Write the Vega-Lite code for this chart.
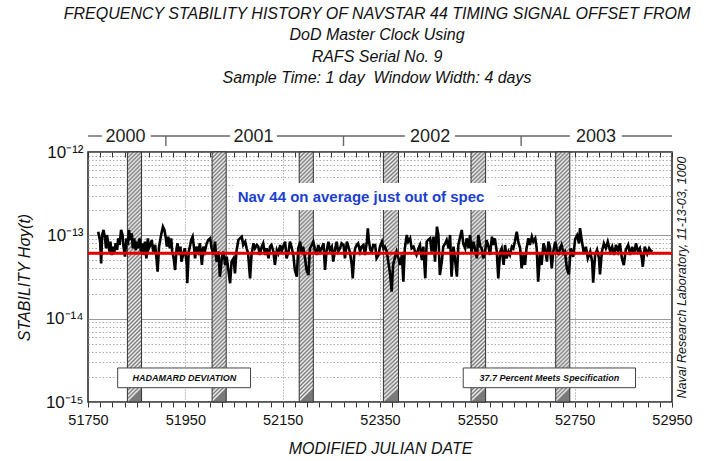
{
  "$schema": "https://vega.github.io/schema/vega-lite/v6.json",
  "autosize": {"type": "none"},
  "padding": {"left": 88, "top": 152, "right": 37, "bottom": 59},
  "width": 584,
  "height": 250,
  "config": {
    "font": "Liberation Sans",
    "view": {"stroke": "#222", "strokeWidth": 1.5},
    "axis": {"labelFont": "Liberation Sans", "titleFont": "Liberation Sans"}
  },
  "title": {
    "text": ["FREQUENCY STABILITY HISTORY OF NAVSTAR 44 TIMING SIGNAL OFFSET FROM", "DoD Master Clock Using", "RAFS Serial No. 9", "Sample Time: 1 day\u00a0 Window Width: 4 days"],
    "font": "Liberation Sans",
    "fontSize": 16,
    "fontStyle": "italic",
    "fontWeight": "normal",
    "color": "#111",
    "lineHeight": 21.5,
    "anchor": "middle",
    "frame": "group",
    "offset": 42,
    "dx": -3
  },
  "resolve": {"axis": {"x": "independent", "y": "independent"}},
  "layer": [
    {
      "data": {"values": [
        {"start": 51831, "end": 51860},
        {"start": 52005, "end": 52034},
        {"start": 52184, "end": 52213},
        {"start": 52357, "end": 52388},
        {"start": 52537, "end": 52567},
        {"start": 52711, "end": 52740}
      ]},
      "mark": {
        "type": "rect",
        "stroke": "#333",
        "strokeWidth": 1,
        "fill": {
          "gradient": "linear", "x1": 0, "y1": 0, "x2": 0.0564, "y2": 1,
          "stops": [
            {"offset": 0, "color": "#f2f2f2"}, {"offset": 0.008, "color": "#7a7a7a"},
            {"offset": 0.016, "color": "#f2f2f2"}, {"offset": 0.024, "color": "#7a7a7a"},
            {"offset": 0.032, "color": "#f2f2f2"}, {"offset": 0.04, "color": "#7a7a7a"},
            {"offset": 0.048, "color": "#f2f2f2"}, {"offset": 0.056, "color": "#7a7a7a"},
            {"offset": 0.064, "color": "#f2f2f2"}, {"offset": 0.072, "color": "#7a7a7a"},
            {"offset": 0.08, "color": "#f2f2f2"}, {"offset": 0.088, "color": "#7a7a7a"},
            {"offset": 0.096, "color": "#f2f2f2"}, {"offset": 0.104, "color": "#7a7a7a"},
            {"offset": 0.112, "color": "#f2f2f2"}, {"offset": 0.12, "color": "#7a7a7a"},
            {"offset": 0.128, "color": "#f2f2f2"}, {"offset": 0.136, "color": "#7a7a7a"},
            {"offset": 0.144, "color": "#f2f2f2"}, {"offset": 0.152, "color": "#7a7a7a"},
            {"offset": 0.16, "color": "#f2f2f2"}, {"offset": 0.168, "color": "#7a7a7a"},
            {"offset": 0.176, "color": "#f2f2f2"}, {"offset": 0.184, "color": "#7a7a7a"},
            {"offset": 0.192, "color": "#f2f2f2"}, {"offset": 0.2, "color": "#7a7a7a"},
            {"offset": 0.208, "color": "#f2f2f2"}, {"offset": 0.216, "color": "#7a7a7a"},
            {"offset": 0.224, "color": "#f2f2f2"}, {"offset": 0.232, "color": "#7a7a7a"},
            {"offset": 0.24, "color": "#f2f2f2"}, {"offset": 0.248, "color": "#7a7a7a"},
            {"offset": 0.256, "color": "#f2f2f2"}, {"offset": 0.264, "color": "#7a7a7a"},
            {"offset": 0.272, "color": "#f2f2f2"}, {"offset": 0.28, "color": "#7a7a7a"},
            {"offset": 0.288, "color": "#f2f2f2"}, {"offset": 0.296, "color": "#7a7a7a"},
            {"offset": 0.304, "color": "#f2f2f2"}, {"offset": 0.312, "color": "#7a7a7a"},
            {"offset": 0.32, "color": "#f2f2f2"}, {"offset": 0.328, "color": "#7a7a7a"},
            {"offset": 0.336, "color": "#f2f2f2"}, {"offset": 0.344, "color": "#7a7a7a"},
            {"offset": 0.352, "color": "#f2f2f2"}, {"offset": 0.36, "color": "#7a7a7a"},
            {"offset": 0.368, "color": "#f2f2f2"}, {"offset": 0.376, "color": "#7a7a7a"},
            {"offset": 0.384, "color": "#f2f2f2"}, {"offset": 0.392, "color": "#7a7a7a"},
            {"offset": 0.4, "color": "#f2f2f2"}, {"offset": 0.408, "color": "#7a7a7a"},
            {"offset": 0.416, "color": "#f2f2f2"}, {"offset": 0.424, "color": "#7a7a7a"},
            {"offset": 0.432, "color": "#f2f2f2"}, {"offset": 0.44, "color": "#7a7a7a"},
            {"offset": 0.448, "color": "#f2f2f2"}, {"offset": 0.456, "color": "#7a7a7a"},
            {"offset": 0.464, "color": "#f2f2f2"}, {"offset": 0.472, "color": "#7a7a7a"},
            {"offset": 0.48, "color": "#f2f2f2"}, {"offset": 0.488, "color": "#7a7a7a"},
            {"offset": 0.496, "color": "#f2f2f2"}, {"offset": 0.504, "color": "#7a7a7a"},
            {"offset": 0.512, "color": "#f2f2f2"}, {"offset": 0.52, "color": "#7a7a7a"},
            {"offset": 0.528, "color": "#f2f2f2"}, {"offset": 0.536, "color": "#7a7a7a"},
            {"offset": 0.544, "color": "#f2f2f2"}, {"offset": 0.552, "color": "#7a7a7a"},
            {"offset": 0.56, "color": "#f2f2f2"}, {"offset": 0.568, "color": "#7a7a7a"},
            {"offset": 0.576, "color": "#f2f2f2"}, {"offset": 0.584, "color": "#7a7a7a"},
            {"offset": 0.592, "color": "#f2f2f2"}, {"offset": 0.6, "color": "#7a7a7a"},
            {"offset": 0.608, "color": "#f2f2f2"}, {"offset": 0.616, "color": "#7a7a7a"},
            {"offset": 0.624, "color": "#f2f2f2"}, {"offset": 0.632, "color": "#7a7a7a"},
            {"offset": 0.64, "color": "#f2f2f2"}, {"offset": 0.648, "color": "#7a7a7a"},
            {"offset": 0.656, "color": "#f2f2f2"}, {"offset": 0.664, "color": "#7a7a7a"},
            {"offset": 0.672, "color": "#f2f2f2"}, {"offset": 0.68, "color": "#7a7a7a"},
            {"offset": 0.688, "color": "#f2f2f2"}, {"offset": 0.696, "color": "#7a7a7a"},
            {"offset": 0.704, "color": "#f2f2f2"}, {"offset": 0.712, "color": "#7a7a7a"},
            {"offset": 0.72, "color": "#f2f2f2"}, {"offset": 0.728, "color": "#7a7a7a"},
            {"offset": 0.736, "color": "#f2f2f2"}, {"offset": 0.744, "color": "#7a7a7a"},
            {"offset": 0.752, "color": "#f2f2f2"}, {"offset": 0.76, "color": "#7a7a7a"},
            {"offset": 0.768, "color": "#f2f2f2"}, {"offset": 0.776, "color": "#7a7a7a"},
            {"offset": 0.784, "color": "#f2f2f2"}, {"offset": 0.792, "color": "#7a7a7a"},
            {"offset": 0.8, "color": "#f2f2f2"}, {"offset": 0.808, "color": "#7a7a7a"},
            {"offset": 0.816, "color": "#f2f2f2"}, {"offset": 0.824, "color": "#7a7a7a"},
            {"offset": 0.832, "color": "#f2f2f2"}, {"offset": 0.84, "color": "#7a7a7a"},
            {"offset": 0.848, "color": "#f2f2f2"}, {"offset": 0.856, "color": "#7a7a7a"},
            {"offset": 0.864, "color": "#f2f2f2"}, {"offset": 0.872, "color": "#7a7a7a"},
            {"offset": 0.88, "color": "#f2f2f2"}, {"offset": 0.888, "color": "#7a7a7a"},
            {"offset": 0.896, "color": "#f2f2f2"}, {"offset": 0.904, "color": "#7a7a7a"},
            {"offset": 0.912, "color": "#f2f2f2"}, {"offset": 0.92, "color": "#7a7a7a"},
            {"offset": 0.928, "color": "#f2f2f2"}, {"offset": 0.936, "color": "#7a7a7a"},
            {"offset": 0.944, "color": "#f2f2f2"}, {"offset": 0.952, "color": "#7a7a7a"},
            {"offset": 0.96, "color": "#f2f2f2"}, {"offset": 0.968, "color": "#7a7a7a"},
            {"offset": 0.976, "color": "#f2f2f2"}, {"offset": 0.984, "color": "#7a7a7a"},
            {"offset": 0.992, "color": "#f2f2f2"}, {"offset": 1, "color": "#7a7a7a"}
          ]
        }
      },
      "encoding": {
        "x": {
          "field": "start", "type": "quantitative",
          "scale": {"domain": [51750, 52950], "nice": false, "zero": false},
          "axis": {
            "orient": "bottom",
            "title": "MODIFIED JULIAN DATE",
            "titleFontStyle": "italic", "titleFontWeight": "normal", "titleFontSize": 16, "titleColor": "#111", "titlePadding": 14,
            "values": [51750, 51775, 51800, 51825, 51850, 51875, 51900, 51925, 51950, 51975, 52000, 52025, 52050, 52075, 52100, 52125, 52150, 52175, 52200, 52225, 52250, 52275, 52300, 52325, 52350, 52375, 52400, 52425, 52450, 52475, 52500, 52525, 52550, 52575, 52600, 52625, 52650, 52675, 52700, 52725, 52750, 52775, 52800, 52825, 52850, 52875, 52900, 52925, 52950],
            "labelExpr": "(datum.value - 51750) % 200 == 0 ? format(datum.value, 'd') : ''",
            "labelFontSize": 14.5, "labelColor": "#111", "labelPadding": 6,
            "labelOverlap": false, "labelFlush": false, "labelBound": false,
            "tickSize": 5, "tickColor": "#333", "tickWidth": 1,
            "domain": false,
            "grid": true, "gridDash": [1, 2], "gridColor": "#888",
            "gridOpacity": {"condition": {"test": "(datum.value - 51750) % 200 == 0 && datum.value > 51750 && datum.value < 52950", "value": 1}, "value": 0}
          }
        },
        "x2": {"field": "end"},
        "y": {
          "datum": 1e-15, "type": "quantitative",
          "scale": {"type": "log", "domain": [1e-15, 1e-12], "nice": false},
          "axis": {
            "orient": "left",
            "title": "STABILITY  Hσy(t)",
            "titleFontStyle": "italic", "titleFontWeight": "normal", "titleFontSize": 16, "titleColor": "#111", "titlePadding": 13,
            "values": [1e-15, 2e-15, 3e-15, 4e-15, 5e-15, 6e-15, 7e-15, 8e-15, 9e-15, 1e-14, 2e-14, 3e-14, 4e-14, 5e-14, 6e-14, 7e-14, 8e-14, 9e-14, 1e-13, 2e-13, 3e-13, 4e-13, 5e-13, 6e-13, 7e-13, 8e-13, 9e-13, 1e-12],
            "labelExpr": "abs(log(datum.value)/LN10 - round(log(datum.value)/LN10)) < 0.001 ? (datum.value > 5e-13 ? '10⁻¹²' : datum.value > 5e-14 ? '10⁻¹³' : datum.value > 5e-15 ? '10⁻¹⁴' : '10⁻¹⁵') : ''",
            "labelFontSize": 17, "labelColor": "#111", "labelPadding": 5,
            "labelOverlap": false, "labelFlush": false, "labelBound": false,
            "ticks": false, "domain": false,
            "grid": true,
            "gridDash": {"condition": {"test": "abs(log(datum.value)/LN10 - round(log(datum.value)/LN10)) < 0.001", "value": [1, 0]}, "value": [1.5, 2]},
            "gridColor": {"condition": {"test": "abs(log(datum.value)/LN10 - round(log(datum.value)/LN10)) < 0.001", "value": "#777"}, "value": "#aaa"}
          }
        },
        "y2": {"datum": 1e-12}
      }
    },
    {
      "data": {"values": [{"x1": 52048, "x2": 52588, "y1": 4.25e-13, "y2": 2.01e-13, "xm": 52311, "ym": 2.88e-13, "txt": "Nav 44 on average just out of spec"}]},
      "layer": [
        {
          "mark": {"type": "rect", "fill": "white"},
          "encoding": {
            "x": {"field": "x1", "type": "quantitative", "axis": null},
            "x2": {"field": "x2"},
            "y": {"field": "y1", "type": "quantitative", "axis": null},
            "y2": {"field": "y2"}
          }
        },
        {
          "mark": {"type": "text", "fontSize": 15, "fontWeight": "bold", "color": "#1c3fcf", "baseline": "middle", "align": "center"},
          "encoding": {
            "x": {"field": "xm", "type": "quantitative", "axis": null},
            "y": {"field": "ym", "type": "quantitative", "axis": null},
            "text": {"field": "txt"}
          }
        }
      ]
    },
    {
      "data": {"values": [
        {"mjd": 51771, "v": 1.107e-13}, {"mjd": 51775, "v": 8.39e-14}, {"mjd": 51777, "v": 4.61e-14}, {"mjd": 51779, "v": 1.009e-13},
        {"mjd": 51782, "v": 1.16e-13}, {"mjd": 51785, "v": 9.2e-14}, {"mjd": 51787, "v": 6.98e-14}, {"mjd": 51789, "v": 1.009e-13},
        {"mjd": 51792, "v": 7.66e-14}, {"mjd": 51794, "v": 6.37e-14}, {"mjd": 51796, "v": 8.39e-14}, {"mjd": 51799, "v": 5.81e-14},
        {"mjd": 51801, "v": 7.31e-14}, {"mjd": 51804, "v": 6.37e-14}, {"mjd": 51807, "v": 8.02e-14}, {"mjd": 51810, "v": 6.67e-14},
        {"mjd": 51812, "v": 9.2e-14}, {"mjd": 51815, "v": 7.66e-14}, {"mjd": 51818, "v": 1.16e-13}, {"mjd": 51821, "v": 1.009e-13},
        {"mjd": 51823, "v": 7.31e-14}, {"mjd": 51826, "v": 5.55e-14}, {"mjd": 51829, "v": 9.2e-14}, {"mjd": 51832, "v": 7.66e-14},
        {"mjd": 51834, "v": 1.16e-13}, {"mjd": 51837, "v": 8.79e-14}, {"mjd": 51840, "v": 1.057e-13}, {"mjd": 51842, "v": 6.98e-14},
        {"mjd": 51845, "v": 9.2e-14}, {"mjd": 51848, "v": 6.67e-14}, {"mjd": 51851, "v": 8.39e-14}, {"mjd": 51853, "v": 6.98e-14},
        {"mjd": 51856, "v": 9.2e-14}, {"mjd": 51859, "v": 6.37e-14}, {"mjd": 51862, "v": 8.02e-14}, {"mjd": 51864, "v": 5.81e-14},
        {"mjd": 51867, "v": 8.39e-14}, {"mjd": 51870, "v": 5.3e-14}, {"mjd": 51873, "v": 9.2e-14}, {"mjd": 51875, "v": 6.98e-14},
        {"mjd": 51878, "v": 7.66e-14}, {"mjd": 51881, "v": 8.79e-14}, {"mjd": 51884, "v": 6.37e-14}, {"mjd": 51888, "v": 7.66e-14},
        {"mjd": 51891, "v": 5.06e-14}, {"mjd": 51893, "v": 3.66e-14}, {"mjd": 51896, "v": 7.31e-14}, {"mjd": 51899, "v": 9.2e-14},
        {"mjd": 51901, "v": 1.057e-13}, {"mjd": 51904, "v": 1.27e-13}, {"mjd": 51907, "v": 1.16e-13}, {"mjd": 51910, "v": 9.2e-14},
        {"mjd": 51912, "v": 7.31e-14}, {"mjd": 51915, "v": 9.64e-14}, {"mjd": 51918, "v": 6.98e-14}, {"mjd": 51921, "v": 9.2e-14},
        {"mjd": 51923, "v": 6.37e-14}, {"mjd": 51926, "v": 5.3e-14}, {"mjd": 51929, "v": 3.84e-14}, {"mjd": 51932, "v": 6.98e-14},
        {"mjd": 51934, "v": 8.02e-14}, {"mjd": 51937, "v": 5.81e-14}, {"mjd": 51940, "v": 7.31e-14}, {"mjd": 51942, "v": 4.83e-14},
        {"mjd": 51946, "v": 6.08e-14}, {"mjd": 51949, "v": 7.0e-14}, {"mjd": 51953, "v": 4.41e-14}, {"mjd": 51954, "v": 2.66e-14},
        {"mjd": 51957, "v": 6.37e-14}, {"mjd": 51960, "v": 7.66e-14}, {"mjd": 51962, "v": 8.79e-14}, {"mjd": 51965, "v": 9.64e-14},
        {"mjd": 51968, "v": 6.98e-14}, {"mjd": 51970, "v": 5.3e-14}, {"mjd": 51973, "v": 7.31e-14}, {"mjd": 51977, "v": 6.37e-14},
        {"mjd": 51980, "v": 8.02e-14}, {"mjd": 51984, "v": 4.41e-14}, {"mjd": 51987, "v": 7.31e-14}, {"mjd": 51990, "v": 6.37e-14},
        {"mjd": 51994, "v": 8.02e-14}, {"mjd": 51997, "v": 8.79e-14}, {"mjd": 52001, "v": 9.2e-14}, {"mjd": 52004, "v": 6.98e-14},
        {"mjd": 52008, "v": 5.81e-14}, {"mjd": 52011, "v": 8.39e-14}, {"mjd": 52014, "v": 4.83e-14}, {"mjd": 52018, "v": 6.37e-14},
        {"mjd": 52021, "v": 3.19e-14}, {"mjd": 52025, "v": 5.3e-14}, {"mjd": 52028, "v": 6.37e-14}, {"mjd": 52032, "v": 4.41e-14},
        {"mjd": 52035, "v": 5.55e-14}, {"mjd": 52038, "v": 4.02e-14}, {"mjd": 52042, "v": 2.66e-14}, {"mjd": 52045, "v": 4.83e-14},
        {"mjd": 52049, "v": 5.3e-14}, {"mjd": 52052, "v": 3.5e-14}, {"mjd": 52055, "v": 6.37e-14}, {"mjd": 52059, "v": 8.79e-14},
        {"mjd": 52062, "v": 9.2e-14}, {"mjd": 52066, "v": 9.64e-14}, {"mjd": 52069, "v": 7.66e-14}, {"mjd": 52073, "v": 8.39e-14},
        {"mjd": 52076, "v": 6.98e-14}, {"mjd": 52079, "v": 6.08e-14}, {"mjd": 52083, "v": 3.05e-14}, {"mjd": 52086, "v": 5.81e-14},
        {"mjd": 52090, "v": 8.02e-14}, {"mjd": 52093, "v": 6.98e-14}, {"mjd": 52097, "v": 7.66e-14}, {"mjd": 52100, "v": 7.31e-14},
        {"mjd": 52103, "v": 5.81e-14}, {"mjd": 52107, "v": 7.31e-14}, {"mjd": 52110, "v": 8.02e-14}, {"mjd": 52114, "v": 5.81e-14},
        {"mjd": 52117, "v": 6.98e-14}, {"mjd": 52121, "v": 5.3e-14}, {"mjd": 52124, "v": 7.31e-14}, {"mjd": 52127, "v": 7.66e-14},
        {"mjd": 52131, "v": 6.37e-14}, {"mjd": 52134, "v": 4.41e-14}, {"mjd": 52138, "v": 6.67e-14}, {"mjd": 52141, "v": 6.08e-14},
        {"mjd": 52145, "v": 7.66e-14}, {"mjd": 52148, "v": 6.37e-14}, {"mjd": 52151, "v": 7.31e-14}, {"mjd": 52155, "v": 8.39e-14},
        {"mjd": 52158, "v": 5.3e-14}, {"mjd": 52162, "v": 6.37e-14}, {"mjd": 52165, "v": 8.39e-14}, {"mjd": 52168, "v": 7.31e-14},
        {"mjd": 52172, "v": 5.81e-14}, {"mjd": 52175, "v": 3.84e-14}, {"mjd": 52179, "v": 3.19e-14}, {"mjd": 52182, "v": 6.98e-14},
        {"mjd": 52186, "v": 8.39e-14}, {"mjd": 52189, "v": 6.08e-14}, {"mjd": 52192, "v": 7.31e-14}, {"mjd": 52196, "v": 5.3e-14},
        {"mjd": 52199, "v": 3.84e-14}, {"mjd": 52203, "v": 3.34e-14}, {"mjd": 52206, "v": 6.98e-14}, {"mjd": 52210, "v": 7.66e-14},
        {"mjd": 52213, "v": 8.39e-14}, {"mjd": 52216, "v": 6.98e-14}, {"mjd": 52220, "v": 5.81e-14}, {"mjd": 52223, "v": 7.66e-14},
        {"mjd": 52227, "v": 6.37e-14}, {"mjd": 52230, "v": 6.98e-14}, {"mjd": 52234, "v": 8.02e-14}, {"mjd": 52237, "v": 3.84e-14},
        {"mjd": 52240, "v": 6.37e-14}, {"mjd": 52244, "v": 8.39e-14}, {"mjd": 52247, "v": 6.67e-14}, {"mjd": 52251, "v": 7.31e-14},
        {"mjd": 52254, "v": 4.83e-14}, {"mjd": 52258, "v": 6.98e-14}, {"mjd": 52261, "v": 8.39e-14}, {"mjd": 52264, "v": 6.37e-14},
        {"mjd": 52268, "v": 6.98e-14}, {"mjd": 52271, "v": 8.02e-14}, {"mjd": 52275, "v": 7.66e-14}, {"mjd": 52278, "v": 5.3e-14},
        {"mjd": 52282, "v": 8.39e-14}, {"mjd": 52285, "v": 7.31e-14}, {"mjd": 52288, "v": 6.37e-14}, {"mjd": 52292, "v": 4.41e-14},
        {"mjd": 52294, "v": 3.05e-14}, {"mjd": 52297, "v": 5.81e-14}, {"mjd": 52299, "v": 6.98e-14}, {"mjd": 52302, "v": 7.66e-14},
        {"mjd": 52305, "v": 8.02e-14}, {"mjd": 52309, "v": 6.37e-14}, {"mjd": 52312, "v": 7.31e-14}, {"mjd": 52316, "v": 7.66e-14},
        {"mjd": 52319, "v": 5.81e-14}, {"mjd": 52323, "v": 8.39e-14}, {"mjd": 52325, "v": 1.21e-13}, {"mjd": 52327, "v": 8.79e-14},
        {"mjd": 52330, "v": 6.67e-14}, {"mjd": 52333, "v": 6.37e-14}, {"mjd": 52336, "v": 7.66e-14}, {"mjd": 52340, "v": 7.66e-14},
        {"mjd": 52343, "v": 5.3e-14}, {"mjd": 52347, "v": 5.81e-14}, {"mjd": 52350, "v": 7.31e-14}, {"mjd": 52354, "v": 8.39e-14},
        {"mjd": 52357, "v": 6.98e-14}, {"mjd": 52360, "v": 7.31e-14}, {"mjd": 52364, "v": 6.37e-14}, {"mjd": 52367, "v": 4.83e-14},
        {"mjd": 52371, "v": 3.34e-14}, {"mjd": 52374, "v": 2.11e-14}, {"mjd": 52377, "v": 4.41e-14}, {"mjd": 52381, "v": 5.55e-14},
        {"mjd": 52384, "v": 6.37e-14}, {"mjd": 52388, "v": 5.3e-14}, {"mjd": 52391, "v": 4.41e-14}, {"mjd": 52395, "v": 5.81e-14},
        {"mjd": 52398, "v": 2.78e-14}, {"mjd": 52401, "v": 6.98e-14}, {"mjd": 52405, "v": 1.009e-13}, {"mjd": 52408, "v": 8.39e-14},
        {"mjd": 52412, "v": 9.2e-14}, {"mjd": 52415, "v": 6.98e-14}, {"mjd": 52419, "v": 7.31e-14}, {"mjd": 52422, "v": 6.37e-14},
        {"mjd": 52425, "v": 5.81e-14}, {"mjd": 52429, "v": 6.98e-14}, {"mjd": 52432, "v": 7.66e-14}, {"mjd": 52436, "v": 5.06e-14},
        {"mjd": 52439, "v": 7.31e-14}, {"mjd": 52443, "v": 3.05e-14}, {"mjd": 52446, "v": 8.39e-14}, {"mjd": 52449, "v": 8.79e-14},
        {"mjd": 52453, "v": 9.2e-14}, {"mjd": 52456, "v": 6.37e-14}, {"mjd": 52460, "v": 9.64e-14}, {"mjd": 52463, "v": 4.83e-14},
        {"mjd": 52467, "v": 1.27e-13}, {"mjd": 52470, "v": 1.009e-13}, {"mjd": 52473, "v": 3.34e-14}, {"mjd": 52477, "v": 4.83e-14},
        {"mjd": 52480, "v": 7.31e-14}, {"mjd": 52484, "v": 8.02e-14}, {"mjd": 52487, "v": 8.79e-14}, {"mjd": 52491, "v": 6.98e-14},
        {"mjd": 52494, "v": 1.009e-13}, {"mjd": 52497, "v": 3.19e-14}, {"mjd": 52501, "v": 7.31e-14}, {"mjd": 52504, "v": 5.3e-14},
        {"mjd": 52508, "v": 3.19e-14}, {"mjd": 52511, "v": 7.66e-14}, {"mjd": 52514, "v": 9.2e-14}, {"mjd": 52518, "v": 1.16e-13},
        {"mjd": 52521, "v": 8.02e-14}, {"mjd": 52525, "v": 6.98e-14}, {"mjd": 52528, "v": 9.2e-14}, {"mjd": 52532, "v": 6.98e-14},
        {"mjd": 52535, "v": 1.009e-13}, {"mjd": 52538, "v": 6.37e-14}, {"mjd": 52542, "v": 8.39e-14}, {"mjd": 52545, "v": 6.98e-14},
        {"mjd": 52549, "v": 5.3e-14}, {"mjd": 52552, "v": 1.009e-13}, {"mjd": 52556, "v": 7.31e-14}, {"mjd": 52559, "v": 6.98e-14},
        {"mjd": 52562, "v": 5.3e-14}, {"mjd": 52566, "v": 6.37e-14}, {"mjd": 52569, "v": 8.79e-14}, {"mjd": 52573, "v": 7.31e-14},
        {"mjd": 52576, "v": 5.81e-14}, {"mjd": 52580, "v": 9.64e-14}, {"mjd": 52583, "v": 7.66e-14}, {"mjd": 52586, "v": 9.2e-14},
        {"mjd": 52590, "v": 6.37e-14}, {"mjd": 52593, "v": 3.05e-14}, {"mjd": 52597, "v": 6.37e-14}, {"mjd": 52600, "v": 6.98e-14},
        {"mjd": 52604, "v": 4.41e-14}, {"mjd": 52607, "v": 7.66e-14}, {"mjd": 52610, "v": 5.3e-14}, {"mjd": 52614, "v": 6.37e-14},
        {"mjd": 52617, "v": 5.81e-14}, {"mjd": 52621, "v": 7.31e-14}, {"mjd": 52624, "v": 6.98e-14}, {"mjd": 52627, "v": 8.39e-14},
        {"mjd": 52631, "v": 1.107e-13}, {"mjd": 52634, "v": 8.39e-14}, {"mjd": 52638, "v": 6.98e-14}, {"mjd": 52641, "v": 4.02e-14},
        {"mjd": 52645, "v": 5.81e-14}, {"mjd": 52648, "v": 4.41e-14}, {"mjd": 52651, "v": 6.98e-14}, {"mjd": 52655, "v": 9.2e-14},
        {"mjd": 52658, "v": 7.66e-14}, {"mjd": 52662, "v": 9.64e-14}, {"mjd": 52665, "v": 8.39e-14}, {"mjd": 52669, "v": 9.2e-14},
        {"mjd": 52672, "v": 6.98e-14}, {"mjd": 52675, "v": 2.78e-14}, {"mjd": 52679, "v": 6.08e-14}, {"mjd": 52682, "v": 4.41e-14},
        {"mjd": 52686, "v": 8.02e-14}, {"mjd": 52689, "v": 6.98e-14}, {"mjd": 52693, "v": 4.83e-14}, {"mjd": 52696, "v": 8.39e-14},
        {"mjd": 52699, "v": 7.31e-14}, {"mjd": 52703, "v": 4.02e-14}, {"mjd": 52706, "v": 6.37e-14}, {"mjd": 52710, "v": 8.39e-14},
        {"mjd": 52713, "v": 6.98e-14}, {"mjd": 52717, "v": 5.81e-14}, {"mjd": 52720, "v": 6.98e-14}, {"mjd": 52723, "v": 7.66e-14},
        {"mjd": 52727, "v": 6.08e-14}, {"mjd": 52730, "v": 6.37e-14}, {"mjd": 52734, "v": 4.0e-14}, {"mjd": 52738, "v": 3.4e-14},
        {"mjd": 52742, "v": 7.0e-14}, {"mjd": 52747, "v": 5.5e-14}, {"mjd": 52751, "v": 9.0e-14}, {"mjd": 52755, "v": 1.0e-13},
        {"mjd": 52759, "v": 8.0e-14}, {"mjd": 52761, "v": 1.22e-13}, {"mjd": 52765, "v": 8.4e-14}, {"mjd": 52769, "v": 6.0e-14},
        {"mjd": 52773, "v": 7.3e-14}, {"mjd": 52777, "v": 5.3e-14}, {"mjd": 52782, "v": 6.4e-14}, {"mjd": 52786, "v": 4.8e-14},
        {"mjd": 52788, "v": 2.7e-14}, {"mjd": 52792, "v": 5.8e-14}, {"mjd": 52796, "v": 6.7e-14}, {"mjd": 52800, "v": 5.3e-14},
        {"mjd": 52802, "v": 3.4e-14}, {"mjd": 52806, "v": 6.4e-14}, {"mjd": 52810, "v": 8.0e-14}, {"mjd": 52814, "v": 7.0e-14},
        {"mjd": 52818, "v": 8.4e-14}, {"mjd": 52823, "v": 6.4e-14}, {"mjd": 52827, "v": 7.3e-14}, {"mjd": 52831, "v": 5.8e-14},
        {"mjd": 52835, "v": 7.7e-14}, {"mjd": 52839, "v": 6.4e-14}, {"mjd": 52843, "v": 8.0e-14}, {"mjd": 52847, "v": 5.3e-14},
        {"mjd": 52851, "v": 4.4e-14}, {"mjd": 52855, "v": 6.7e-14}, {"mjd": 52860, "v": 7.7e-14}, {"mjd": 52864, "v": 5.8e-14},
        {"mjd": 52868, "v": 7.3e-14}, {"mjd": 52872, "v": 6.0e-14}, {"mjd": 52876, "v": 8.0e-14}, {"mjd": 52880, "v": 6.4e-14},
        {"mjd": 52884, "v": 7.0e-14}, {"mjd": 52888, "v": 5.3e-14}, {"mjd": 52890, "v": 4.2e-14}, {"mjd": 52894, "v": 7.3e-14},
        {"mjd": 52899, "v": 6.0e-14}, {"mjd": 52903, "v": 7.0e-14}, {"mjd": 52907, "v": 6.4e-14}, {"mjd": 52909, "v": 6.7e-14}
      ]},
      "mark": {"type": "line", "color": "#000", "strokeWidth": 2.6},
      "encoding": {
        "x": {
          "field": "mjd", "type": "quantitative",
          "axis": {
            "orient": "top", "title": null, "labels": false, "domain": false, "grid": false,
            "values": [51750, 51775, 51800, 51825, 51850, 51875, 51900, 51925, 51950, 51975, 52000, 52025, 52050, 52075, 52100, 52125, 52150, 52175, 52200, 52225, 52250, 52275, 52300, 52325, 52350, 52375, 52400, 52425, 52450, 52475, 52500, 52525, 52550, 52575, 52600, 52625, 52650, 52675, 52700, 52725, 52750, 52775, 52800, 52825, 52850, 52875, 52900, 52925, 52950],
            "tickSize": -5, "tickColor": "#333", "tickWidth": 1,
            "minExtent": 0, "maxExtent": 0
          }
        },
        "y": {
          "field": "v", "type": "quantitative",
          "axis": {
            "orient": "right", "labels": false, "ticks": false, "domain": false, "grid": false,
            "title": "Naval Research Laboratory, 11-13-03, 1000",
            "titleAngle": 270, "titleFontStyle": "italic", "titleFontWeight": "normal", "titleFontSize": 12.5, "titleColor": "#111",
            "titlePadding": 16, "minExtent": 0, "maxExtent": 0
          }
        }
      }
    },
    {
      "data": {"values": [{"spec": 6.1e-14}]},
      "mark": {"type": "rule", "color": "#e60000", "strokeWidth": 3},
      "encoding": {"y": {"field": "spec", "type": "quantitative", "axis": null}}
    },
    {
      "data": {"values": [
        {"x1": 51811, "x2": 52084, "xm": 51948, "txt": "HADAMARD DEVIATION"},
        {"x1": 52521, "x2": 52875, "xm": 52698, "txt": "37.7 Percent Meets Specification"}
      ]},
      "layer": [
        {
          "mark": {"type": "rect", "fill": "white", "stroke": "#444", "strokeWidth": 1},
          "encoding": {
            "x": {"field": "x1", "type": "quantitative", "axis": null},
            "x2": {"field": "x2"},
            "y": {"datum": 2.56e-15, "type": "quantitative", "axis": null},
            "y2": {"datum": 1.485e-15}
          }
        },
        {
          "mark": {"type": "text", "fontSize": 9, "fontStyle": "italic", "fontWeight": "bold", "color": "#111", "baseline": "middle", "align": "center"},
          "encoding": {
            "x": {"field": "xm", "type": "quantitative", "axis": null},
            "y": {"datum": 1.94e-15, "type": "quantitative", "axis": null},
            "text": {"field": "txt"}
          }
        }
      ]
    },
    {
      "layer": [
        {
          "data": {"values": [
            {"a": 51750, "b": 51779}, {"a": 51879, "b": 52042}, {"a": 52138, "b": 52401}, {"a": 52504, "b": 52740}, {"a": 52847, "b": 52950}
          ]},
          "mark": {"type": "rule", "color": "#666", "strokeWidth": 1.4},
          "encoding": {
            "x": {"field": "a", "type": "quantitative", "axis": null},
            "x2": {"field": "b"},
            "y": {"datum": 1.556e-12, "type": "quantitative", "axis": null}
          }
        },
        {
          "data": {"values": [{"b": 51910}, {"b": 52275}, {"b": 52640}]},
          "mark": {"type": "rule", "color": "#666", "strokeWidth": 1.4},
          "encoding": {
            "x": {"field": "b", "type": "quantitative", "axis": null},
            "y": {"datum": 1.556e-12, "type": "quantitative", "axis": null},
            "y2": {"datum": 1.18e-12}
          }
        },
        {
          "data": {"values": [
            {"m": 51827, "year": "2000"}, {"m": 52090, "year": "2001"}, {"m": 52453, "year": "2002"}, {"m": 52794, "year": "2003"}
          ]},
          "mark": {"type": "text", "fontSize": 18, "color": "#222", "baseline": "middle", "align": "center", "dy": 1.5},
          "encoding": {
            "x": {"field": "m", "type": "quantitative", "axis": null},
            "y": {"datum": 1.556e-12, "type": "quantitative", "axis": null},
            "text": {"field": "year"}
          }
        }
      ]
    }
  ]
}
